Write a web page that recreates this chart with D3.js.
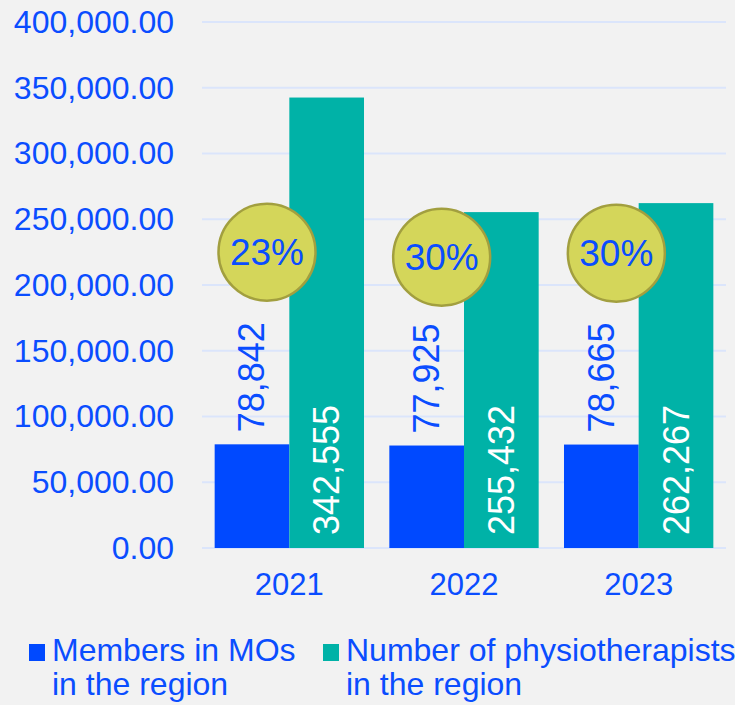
<!DOCTYPE html>
<html>
<head>
<meta charset="utf-8">
<script src="https://cdn.jsdelivr.net/npm/d3@7"></script>
<style>
  html, body { margin: 0; padding: 0; background: #f2f2f2; }
  svg { display: block; font-family: "Liberation Sans", Arial, sans-serif; }
</style>
</head>
<body>
<svg id="chart" width="735" height="705"></svg>
<script>
// chart values
var years = ["2021", "2022", "2023"];
var members = [78842, 77925, 78665];
var physios = [342555, 255432, 262267];
var shares = ["23%", "30%", "30%"];
var yTicks = [0, 50000, 100000, 150000, 200000, 250000, 300000, 350000, 400000];
var seriesNames = ["Members in MOs\nin the region", "Number of physiotherapists\nin the region"];

var blue = "#0049ff";
var teal = "#00b2a7";
var textBlue = "#0a4dff";

var svg = d3.select("#chart");

var x = d3.scaleBand().domain(years).range([202, 726])
  .paddingInner(0.145).paddingOuter(0.0725);
var x1 = d3.scaleBand().domain([0, 1]).range([0, x.bandwidth()]);
var y = d3.scaleLinear().domain([0, 400000]).range([548, 22]);

// gridlines
svg.append("g").selectAll("line")
  .data(yTicks)
  .enter()
  .append("line")
  .attr("x1", 202).attr("x2", 726)
  .attr("y1", d => y(d)).attr("y2", d => y(d))
  .attr("stroke", "#dbe5fb").attr("stroke-width", 2);

// y axis labels
var yAxis = svg.append("g")
  .attr("transform", "translate(174,0)")
  .call(d3.axisLeft(y).tickValues(yTicks).tickSize(0).tickPadding(0)
    .tickFormat(d3.format(",.2f")));
yAxis.select(".domain").remove();
yAxis.selectAll("text")
  .attr("fill", textBlue)
  .attr("font-size", 32)
  .attr("font-family", "Liberation Sans, Arial, sans-serif");

var rows = years.map((yr, i) => ({ year: yr, vals: [members[i], physios[i]], share: shares[i] }));

var groups = svg.selectAll(".grp")
  .data(rows)
  .enter()
  .append("g")
  .attr("class", "grp")
  .attr("transform", d => "translate(" + x(d.year) + ",0)");

groups.selectAll("rect")
  .data(d => d.vals.map((v, k) => ({ v: v, k: k })))
  .enter()
  .append("rect")
  .attr("x", d => x1(d.k))
  .attr("width", x1.bandwidth())
  .attr("y", d => y(d.v))
  .attr("height", d => y(0) - y(d.v))
  .attr("fill", d => d.k === 0 ? blue : teal);

// blue labels above blue bars
groups.append("text")
  .attr("transform", d => "translate(" + (x1(0) + x1.bandwidth() / 2) + "," + (y(d.vals[0]) - 12) + ") rotate(-90)")
  .attr("dominant-baseline", "central")
  .attr("font-size", 36)
  .attr("fill", textBlue)
  .text(d => d3.format(",")(d.vals[0]));

// white labels inside teal bars
groups.append("text")
  .attr("transform", d => "translate(" + (x1(1) + x1.bandwidth() / 2) + "," + (y(0) - 13) + ") rotate(-90)")
  .attr("dominant-baseline", "central")
  .attr("font-size", 36)
  .attr("fill", "#ffffff")
  .text(d => d3.format(",")(d.vals[1]));

// share badges (small vertical nudge per badge, as placed in the original)
var badgeNudge = [0, 5, 1];
var badgeCx = x1(0) + x1.bandwidth() / 2 + 15;

groups.append("circle")
  .attr("cx", badgeCx)
  .attr("cy", (d, i) => y(225000) + badgeNudge[i])
  .attr("r", 48.5)
  .attr("fill", "#d4d65a")
  .attr("stroke", "#a29f3f")
  .attr("stroke-width", 2.5);

groups.append("text")
  .attr("x", badgeCx)
  .attr("y", (d, i) => y(225000) + badgeNudge[i])
  .attr("text-anchor", "middle")
  .attr("dominant-baseline", "central")
  .attr("font-size", 37)
  .attr("fill", textBlue)
  .text(d => d.share);

// x axis labels
var xAxis = svg.append("g")
  .attr("transform", "translate(0,548)")
  .call(d3.axisBottom(x).tickSize(0).tickPadding(25));
xAxis.select(".domain").remove();
xAxis.selectAll("text")
  .attr("fill", textBlue)
  .attr("font-size", 31)
  .attr("font-family", "Liberation Sans, Arial, sans-serif");

// legend
var legendX = [29, 323];
var legend = svg.selectAll(".leg")
  .data(seriesNames)
  .enter()
  .append("g")
  .attr("class", "leg")
  .attr("transform", (d, i) => "translate(" + legendX[i] + ",0)");

legend.append("rect")
  .attr("x", 0).attr("y", 644)
  .attr("width", 16).attr("height", 17)
  .attr("fill", (d, i) => i === 0 ? blue : teal);

legend.append("text")
  .attr("x", 23)
  .attr("y", 661)
  .attr("font-size", 32)
  .attr("fill", textBlue)
  .selectAll("tspan")
  .data(d => d.split("\n"))
  .enter()
  .append("tspan")
  .attr("x", 23)
  .attr("dy", (d, i) => i === 0 ? 0 : 34)
  .text(d => d);
</script>
</body>
</html>
